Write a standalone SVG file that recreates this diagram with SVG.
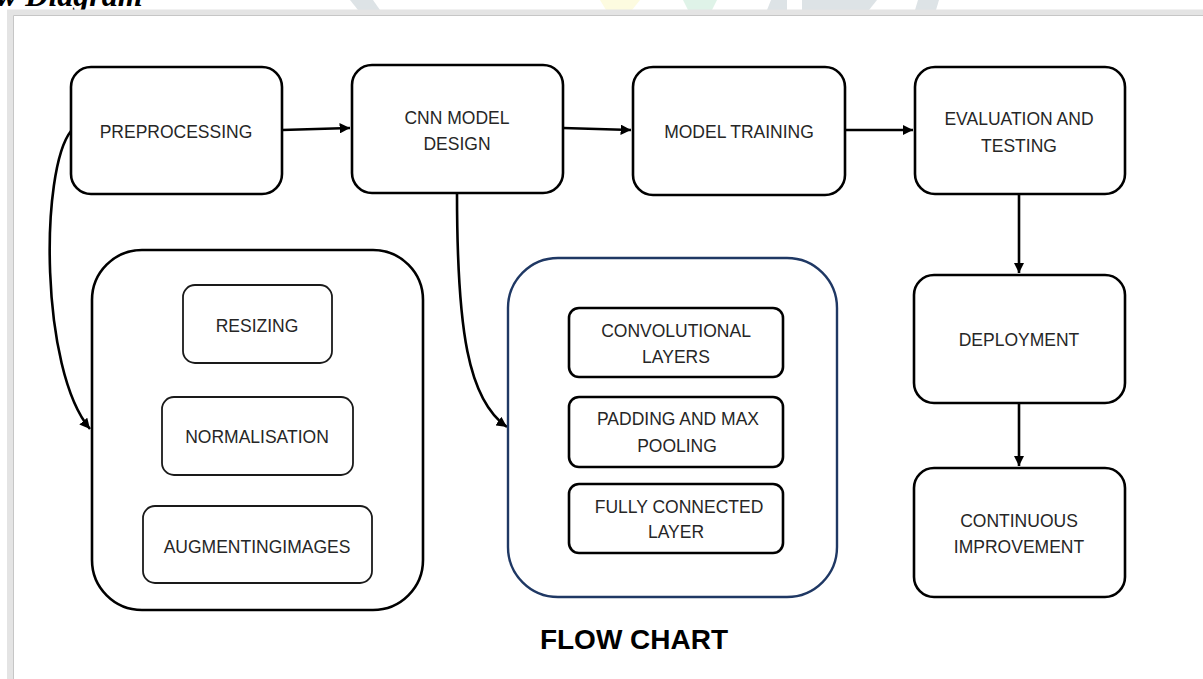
<svg xmlns="http://www.w3.org/2000/svg" width="1203" height="679" viewBox="0 0 1203 679">
<defs>
<style>
.box{fill:#fff;stroke:#000;stroke-width:2.6}
.inner{fill:#fff;stroke:#1a1a1a;stroke-width:1.8}
.inner2{fill:#fff;stroke:#000;stroke-width:2.6}
.lbl{font-family:"Liberation Sans",Arial,sans-serif;font-size:17.5px;fill:#262626;text-anchor:middle}
.conn{fill:none;stroke:#000;stroke-width:2.6}
</style>
<marker id="ah" viewBox="0 0 10 10" refX="10" refY="5" markerWidth="4" markerHeight="4" orient="auto" markerUnits="strokeWidth">
<path d="M0,0 L10,5 L0,10 z" fill="#000"/>
</marker>
</defs>
<rect x="0" y="0" width="1203" height="679" fill="#fff"/>
<!-- watermark fragments above frame -->
<g id="watermark" opacity="1">
<polygon points="600,0 640,0 632,10 606,10" fill="#fdfbe0"/>
<polygon points="683,0 717,0 712,10 688,10" fill="#dff3e8"/>
<polygon points="771,0 787,0 787,10 767,10" fill="#dde3e6"/>
<polygon points="802,0 877,0 869,10 802,10" fill="#dde3e6"/>
<polygon points="918,0 939,0 936,10 915,10" fill="#dde3e6"/>
<polygon points="350,0 373,0 380,10 358,10" fill="#dde3e6"/>
</g>
<text x="-4" y="6" font-family="'Liberation Serif','Times New Roman',serif" font-size="32" font-weight="bold" font-style="italic" fill="#000">w Diagram</text>
<!-- frame -->
<g id="frame">
<rect x="7" y="10" width="1220" height="700" fill="#fff"/>
<path d="M10,690 V12.5 H1210" fill="none" stroke="#e4e4e4" stroke-width="6"/>
<path d="M13.5,690 V15.5 H1210" fill="none" stroke="#c6c6c6" stroke-width="1"/>
</g>
<g id="connectors">
<path class="conn" d="M282,130 L350,128" marker-end="url(#ah)"/>
<path class="conn" d="M563,128 L631,130" marker-end="url(#ah)"/>
<path class="conn" d="M845,130 L913,130" marker-end="url(#ah)"/>
<path class="conn" d="M1019,194 L1019,273" marker-end="url(#ah)"/>
<path class="conn" d="M1019,403 L1019,466" marker-end="url(#ah)"/>
<path class="conn" d="M71,131 C40,170 40,370 90,429" marker-end="url(#ah)"/>
<path class="conn" d="M457,193 C457,330 468,400 507,427" marker-end="url(#ah)"/>
</g>
<g id="preprocessing">
<rect class="box" x="71" y="67" width="211" height="127" rx="20"/>
<text class="lbl" x="176" y="138">PREPROCESSING</text>
</g>
<g id="cnn-design">
<rect class="box" x="352" y="65" width="211" height="128" rx="20"/>
<text class="lbl" x="457" y="124">CNN MODEL</text>
<text class="lbl" x="457" y="150">DESIGN</text>
</g>
<g id="model-training">
<rect class="box" x="633" y="67" width="212" height="128" rx="20"/>
<text class="lbl" x="739" y="138">MODEL TRAINING</text>
</g>
<g id="evaluation">
<rect class="box" x="915" y="67" width="210" height="127" rx="20"/>
<text class="lbl" x="1019" y="125">EVALUATION AND</text>
<text class="lbl" x="1019" y="152">TESTING</text>
</g>
<g id="deployment">
<rect class="box" x="914" y="275" width="211" height="128" rx="20"/>
<text class="lbl" x="1019" y="346">DEPLOYMENT</text>
</g>
<g id="continuous">
<rect class="box" x="914" y="468" width="211" height="129" rx="20"/>
<text class="lbl" x="1019" y="527">CONTINUOUS</text>
<text class="lbl" x="1019" y="553">IMPROVEMENT</text>
</g>
<g id="preprocessing-steps">
<rect class="box" x="92" y="250" width="331" height="360" rx="50"/>
</g>
<g id="resizing">
<rect class="inner" x="183" y="285" width="149" height="78" rx="12"/>
<text class="lbl" x="257" y="332">RESIZING</text>
</g>
<g id="normalisation">
<rect class="inner" x="162" y="397" width="191" height="78" rx="12"/>
<text class="lbl" x="257" y="443">NORMALISATION</text>
</g>
<g id="augmenting">
<rect class="inner" x="143" y="506" width="229" height="77" rx="12"/>
<text class="lbl" x="257" y="553">AUGMENTINGIMAGES</text>
</g>
<g id="cnn-layers">
<rect x="508" y="258" width="329" height="339" rx="50" fill="#fff" stroke="#1f3864" stroke-width="2.4"/>
</g>
<g id="conv">
<rect class="inner2" x="569" y="308" width="214" height="69" rx="10"/>
<text class="lbl" x="676" y="337">CONVOLUTIONAL</text>
<text class="lbl" x="676" y="363">LAYERS</text>
</g>
<g id="padding">
<rect class="inner2" x="569" y="397" width="214" height="70" rx="10"/>
<text class="lbl" x="678" y="425">PADDING AND MAX</text>
<text class="lbl" x="677" y="452">POOLING</text>
</g>
<g id="fully">
<rect class="inner2" x="569" y="484" width="214" height="69" rx="10"/>
<text class="lbl" x="679" y="513">FULLY CONNECTED</text>
<text class="lbl" x="676" y="538">LAYER</text>
</g>
<text x="634" y="649" font-family="'Liberation Sans',Arial,sans-serif" font-size="28" font-weight="bold" fill="#000" text-anchor="middle">FLOW CHART</text>
</svg>
